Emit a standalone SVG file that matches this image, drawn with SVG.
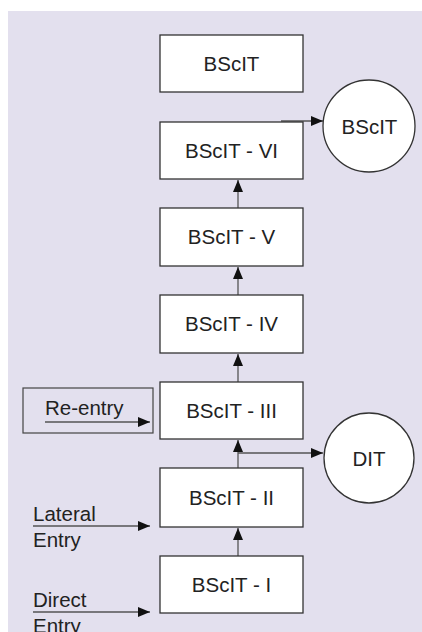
<svg xmlns="http://www.w3.org/2000/svg" width="422" height="632" viewBox="0 0 422 632">
<style>
.box{fill:#fff;stroke:#333;stroke-width:1.3}
.frame{fill:none;stroke:#444;stroke-width:1.2}
.t{font-family:"Liberation Sans",Arial,sans-serif;font-size:20.5px;fill:#222}
.c{text-anchor:middle}
.ln{fill:none;stroke:#555;stroke-width:1.3}
</style>
<defs>
<marker id="ah" markerUnits="userSpaceOnUse" markerWidth="13" markerHeight="11" refX="12" refY="5" orient="auto">
<path d="M0,0 L12,5 L0,10 z" fill="#111"/>
</marker>
</defs>
<rect x="8" y="11" width="414" height="621" fill="#e3e0ee"/>
<g id="connectors">
<line class="ln" x1="238" y1="208" x2="238" y2="180" marker-end="url(#ah)"/>
<line class="ln" x1="238" y1="295" x2="238" y2="267" marker-end="url(#ah)"/>
<line class="ln" x1="238" y1="382" x2="238" y2="354" marker-end="url(#ah)"/>
<line class="ln" x1="238" y1="468" x2="238" y2="440" marker-end="url(#ah)"/>
<line class="ln" x1="238" y1="556" x2="238" y2="528" marker-end="url(#ah)"/>
<line class="ln" x1="281" y1="121" x2="323" y2="121" marker-end="url(#ah)"/>
<line class="ln" x1="238" y1="453" x2="323" y2="453" marker-end="url(#ah)"/>
<line class="ln" x1="45" y1="422" x2="150" y2="422" marker-end="url(#ah)"/>
<line class="ln" x1="33" y1="526" x2="150" y2="526" marker-end="url(#ah)"/>
<line class="ln" x1="33" y1="612" x2="150" y2="612" marker-end="url(#ah)"/>
</g>
<g id="bscit-top"><rect class="box" x="160" y="35" width="143" height="57"/><text class="t c" x="231.5" y="70.5">BScIT</text></g>
<g id="bscit-6"><rect class="box" x="160" y="122" width="143" height="57"/><text class="t c" x="231.5" y="157.5">BScIT - VI</text></g>
<g id="bscit-5"><rect class="box" x="160" y="208" width="143" height="58"/><text class="t c" x="231.5" y="244">BScIT - V</text></g>
<g id="bscit-4"><rect class="box" x="160" y="295" width="143" height="58"/><text class="t c" x="231.5" y="331">BScIT - IV</text></g>
<g id="bscit-3"><rect class="box" x="160" y="382" width="143" height="57"/><text class="t c" x="231.5" y="417.5">BScIT - III</text></g>
<g id="bscit-2"><rect class="box" x="160" y="468" width="143" height="59"/><text class="t c" x="231.5" y="504.5">BScIT - II</text></g>
<g id="bscit-1"><rect class="box" x="160" y="556" width="143" height="57"/><text class="t c" x="231.5" y="591.5">BScIT - I</text></g>
<g id="circle-bscit"><circle class="box" cx="369" cy="126" r="46"/><text class="t c" x="369.5" y="134">BScIT</text></g>
<g id="circle-dit"><circle class="box" cx="369" cy="458" r="45"/><text class="t c" x="369" y="466">DIT</text></g>
<g id="reentry"><rect class="frame" x="23" y="388" width="130" height="45"/><text class="t" x="45" y="415">Re-entry</text></g>
<g id="lateral"><text class="t" x="33" y="521">Lateral</text><text class="t" x="33" y="547">Entry</text></g>
<g id="direct"><text class="t" x="33" y="607">Direct</text><text class="t" x="33" y="633">Entry</text></g>
</svg>
